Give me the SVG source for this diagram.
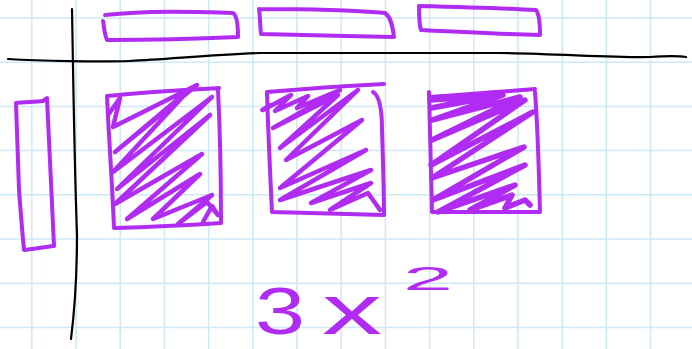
<svg xmlns="http://www.w3.org/2000/svg" width="692" height="349" viewBox="0 0 692 349">
<style>
.grid{stroke:#cde8f8;stroke-width:1.5;fill:none}
.ink{stroke:#000;stroke-width:2.2;fill:none;stroke-linecap:round;stroke-linejoin:round}
.pen{stroke:#b12cf2;stroke-width:4;fill:none;stroke-linecap:round;stroke-linejoin:round}
.hatch{stroke:#b12cf2;stroke-width:4.5;fill:none;stroke-linecap:round;stroke-linejoin:round}
.math{fill:#b12cf2;font-family:"Liberation Sans","DejaVu Sans",sans-serif}
</style>
<rect x="0" y="0" width="692" height="349" fill="#ffffff"/>
<g id="grid">
<path class="grid" d="M31.8,0V349M76,0V349M120.2,0V349M164.4,0V349M208.6,0V349M252.8,0V349M297,0V349M341.2,0V349M385.4,0V349M429.6,0V349M473.8,0V349M518,0V349M562.2,0V349M606.4,0V349M650.6,0V349M0,18H692M0,62.2H692M0,106.4H692M0,150.6H692M0,194.8H692M0,239H692M0,283.2H692M0,327.4H692"/>
</g>
<g id="axes">
<path class="ink" d="M8,59 C40,61 100,62 130,61 C170,59 210,55 260,53 L500,53 C560,54 620,58 650,57 C665,56 680,56 686,57"/>
<path class="ink" d="M72,9 C73,60 74,150 77,235 C77,280 74,315 71,339"/>
</g>
<g id="top-bar-1"><path class="pen" d="M105,15 C150,10 200,12 233,13 C238,16 238,30 238,37 C195,39 150,40 107,40 C104,33 104,25 103,21"/></g>
<g id="top-bar-2"><path class="pen" d="M259,9 C300,9 350,10 385,13 C392,18 393,30 394,37 C350,36 300,35 261,34 C260,25 260,15 259,9"/></g>
<g id="top-bar-3"><path class="pen" d="M419,6 C460,7 500,8 536,10 C540,15 540,28 540,35 C500,34 460,32 421,30 C419,24 419,13 419,6"/></g>
<g id="left-bar"><path class="pen" d="M16,103 C25,102 35,102 43,101 C46,99 47,98 47,98 C49,150 52,200 54,246 C45,247 33,249 24,250 C22,230 21,215 19,190 C18,160 17,130 16,103"/></g>
<g id="square-1">
<path class="pen" d="M107,96 C140,92 180,90 219,88 M218,90 C220,130 221,180 221,223 C190,225 150,227 114,228 C112,180 109,140 107,96"/>
<path class="hatch" d="M108,115 L120,98 L113,127 L197,85 L115,152 L190,89 L113,172 L212,97 L117,189 L210,115 L115,204 L202,154 L127,219 L200,174 L153,219 L212,195 L178,224 L207,202 L218,215 L212,206 L203,222"/>
</g>
<g id="square-2">
<path class="pen" d="M267,92 C300,89 340,86 384,84 M373,92 C380,96 382,110 382,130 C383,160 384,190 384,215 C350,214 310,213 272,212 C270,170 268,130 267,92 M262,110 L270,105"/>
<path class="hatch" d="M263,110 L291,95 L275,111 L308,96 L297,108 L340,90 L273,128 L338,95 L280,148 L358,90 L286,160 L362,120 L280,188 L366,150 L280,200 L371,170 L311,203 L371,183 L330,210 L368,193 L380,210"/>
</g>
<g id="square-3">
<path class="pen" d="M429,97 C465,94 500,92 535,89 M535,92 C538,130 539,175 540,212 C505,212 470,212 432,212 C431,170 430,130 429,92"/>
<path class="hatch" style="stroke-width:5.5" d="M430,100 L492,96 L431,108 L503,95 L432,120 L520,97 L432,140 L525,100 L431,165 L533,112 L432,178 L524,147 L433,200 L525,165 L438,212 L515,185 L470,210 L512,195 L505,208 L525,200 L530,205"/>
</g>
<g id="formula">
<text class="math"><tspan x="255" y="334" font-size="66" textLength="50" lengthAdjust="spacingAndGlyphs">3</tspan><tspan x="322" y="334" font-size="70" textLength="60" lengthAdjust="spacingAndGlyphs">x</tspan><tspan x="403" y="290" font-size="34" textLength="50" lengthAdjust="spacingAndGlyphs">2</tspan></text>
</g>
</svg>
